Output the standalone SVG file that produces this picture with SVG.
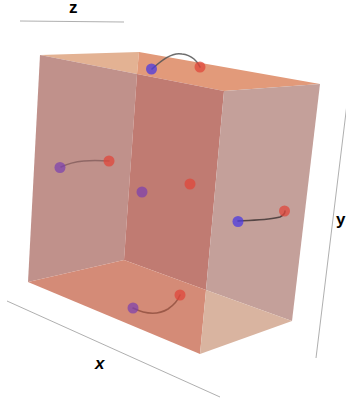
<svg xmlns="http://www.w3.org/2000/svg" width="346" height="404" viewBox="0 0 346 404">
<style>
.axis{stroke:#9a9a9a;stroke-width:0.8;fill:none}
.lbl{font-family:"Liberation Sans",Arial,sans-serif;font-weight:bold;font-size:17px;fill:#000}
.curve{fill:none;stroke-width:1.6;stroke-linecap:round}
.red{fill:#e0473b;fill-opacity:0.75}
.blue{fill:#4b3ae0;fill-opacity:0.75}
.purple{fill:#7a3fb0;fill-opacity:0.7}
</style>
<rect width="346" height="404" fill="#ffffff"/>
<g id="axes">
<line class="axis" x1="20" y1="21" x2="124" y2="22"/>
<line class="axis" x1="7" y1="301" x2="220" y2="397"/>
<line class="axis" x1="347" y1="104" x2="316" y2="358"/>
<text class="lbl" x="69" y="13">z</text>
<text class="lbl" x="95" y="369" font-style="italic">x</text>
<text class="lbl" x="336" y="225">y</text>
</g>
<g id="box">
<polygon points="40,55 139,52 137,74" fill="#e3b293"/>
<polygon points="139,52 320,84 224,91 137,74" fill="#e29a7a"/>
<polygon points="40,55 137,74 124,260 28,282" fill="#c0918b"/>
<polygon points="137,74 224,91 206,290 124,260" fill="#c07b72"/>
<polygon points="224,91 320,84 292,321 206,290" fill="#c4a09a"/>
<polygon points="28,282 124,260 206,290 200,354" fill="#d48b77"/>
<polygon points="206,290 292,321 200,354" fill="#d9b4a0"/>
</g>
<g id="connectors">
<path class="curve" d="M152,69 C162,60 172,52 182,54 C192,55 198,62 200,67" stroke="#555" stroke-opacity="0.85"/>
<path class="curve" d="M61,167 C75,160 92,160 109,161" stroke="#7a5555" stroke-opacity="0.7"/>
<path class="curve" d="M238,221 C255,220 270,220 280,217 C284,215 285,213 285,211" stroke="#3a3030" stroke-opacity="0.8"/>
<path class="curve" d="M133,308 C145,314 158,315 168,309 C174,305 178,300 180,295" stroke="#8a4a3a" stroke-opacity="0.75"/>
</g>
<g id="pair-top">
<circle class="blue" cx="151.5" cy="69" r="5.5"/>
<circle class="red" cx="200" cy="67" r="5.5"/>
</g>
<g id="pair-left">
<circle class="purple" cx="60" cy="167.5" r="5.5"/>
<circle class="red" cx="109" cy="161" r="5.5"/>
</g>
<g id="pair-center">
<circle class="purple" cx="142" cy="192" r="5.5"/>
<circle class="red" cx="190" cy="184" r="5.5"/>
</g>
<g id="pair-right">
<circle class="blue" cx="238" cy="221.5" r="5.5"/>
<circle class="red" cx="284.5" cy="211" r="5.5"/>
</g>
<g id="pair-bottom">
<circle class="purple" cx="133" cy="308" r="5.5"/>
<circle class="red" cx="180" cy="295" r="5.5"/>
</g>
</svg>
